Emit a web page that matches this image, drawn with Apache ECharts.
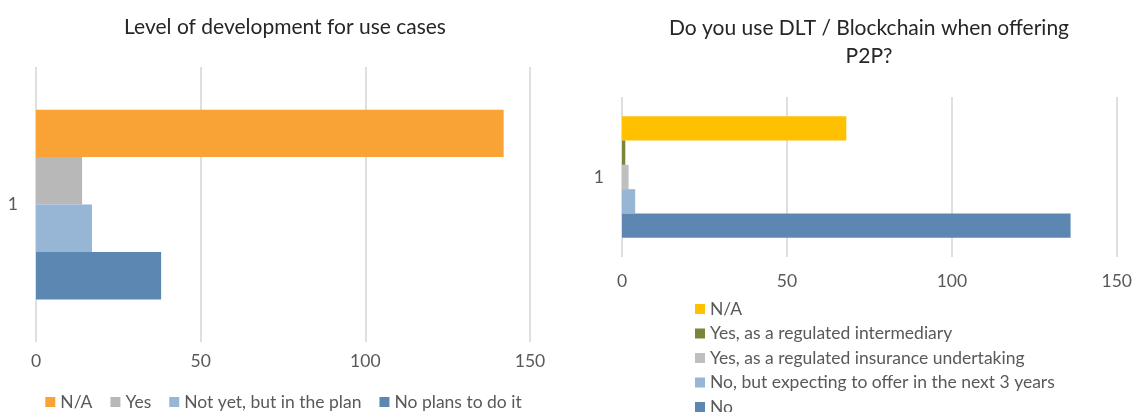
<!DOCTYPE html>
<html>
<head>
<meta charset="utf-8">
<script src="https://cdn.jsdelivr.net/npm/echarts@6/dist/echarts.min.js"></script>
<style>
  html, body { margin: 0; padding: 0; background: #fff; overflow: hidden; height: 412px; }
  .panel { position: absolute; top: 0; }
  #dev { left: 0; width: 567px; height: 412px; }
  #p2p { left: 567px; width: 568px; height: 440px; }
</style>
</head>
<body>
<div id="dev" class="panel"></div>
<div id="p2p" class="panel"></div>
<script>
// Shared category (single group per chart)
const categories = ['1'];

// Left chart: level of development for use cases
const devTitle = 'Level of development for use cases';
const devNames = ['N/A', 'Yes', 'Not yet, but in the plan', 'No plans to do it'];
const devValues = [142, 14, 17, 38];
const devColors = ['#F9A336', '#B8B8B8', '#97B6D6', '#5B87B2'];

// Right chart: DLT / Blockchain use for P2P
const p2pTitle = 'Do you use DLT / Blockchain when offering\nP2P?';
const p2pNames = [
  'N/A',
  'Yes, as a regulated intermediary',
  'Yes, as a regulated insurance undertaking',
  'No, but expecting to offer in the next 3 years',
  'No'
];
const p2pValues = [68, 1, 2, 4, 136];
const p2pColors = ['#FFC000', '#76863C', '#BFBFBF', '#97B6D6', '#5B87B2'];

// Value axis ticks
const axisMin = 0, axisMax = 150, axisStep = 50;

const FONT = 'Lato';
const textColor = '#595959';
const titleColor = '#262626';

function valueAxis(labelMargin) {
  return {
    type: 'value',
    min: axisMin, max: axisMax, interval: axisStep,
    axisLine: { show: false }, axisTick: { show: false },
    axisLabel: { color: textColor, fontFamily: FONT, fontSize: 17.5, margin: labelMargin },
    splitLine: { show: true, lineStyle: { color: '#D4D4D4', width: 1.5 } }
  };
}
function catAxis() {
  return {
    type: 'category', data: categories, inverse: true,
    axisLine: { show: false }, axisTick: { show: false },
    axisLabel: { color: textColor, fontFamily: FONT, fontSize: 17.5, margin: 18 }
  };
}
function barSeries(names, values, colors, gap) {
  return names.map((name, i) => ({
    name: name, type: 'bar',
    data: [values[i]], barGap: '0%', barCategoryGap: gap,
    itemStyle: { color: colors[i] }
  }));
}
const legendText = { color: textColor, fontFamily: FONT, fontSize: 17.5, lineHeight: 16 };
const titleText = { color: titleColor, fontFamily: FONT, fontSize: 21, fontWeight: 'normal', lineHeight: 28 };

// Left panel
const devChart = echarts.init(document.getElementById('dev'), null, { renderer: 'canvas' });
devChart.setOption({
  backgroundColor: '#ffffff',
  animation: false,
  title: { text: devTitle, left: 280, top: 8, textAlign: 'center', textStyle: titleText },
  legend: { data: devNames, left: 'center', top: 388, orient: 'horizontal', icon: 'rect',
    itemWidth: 10, itemHeight: 10, itemGap: 18, textStyle: legendText },
  grid: { left: 36, right: 37, top: 67, height: 275 },
  xAxis: valueAxis(10),
  yAxis: catAxis(),
  series: barSeries(devNames, devValues, devColors, '31%')
});

// Right panel
const p2pChart = echarts.init(document.getElementById('p2p'), null, { renderer: 'canvas' });
p2pChart.setOption({
  backgroundColor: '#ffffff',
  animation: false,
  title: { text: p2pTitle, left: 297, top: 9, textAlign: 'center',
    textStyle: Object.assign({}, titleText, { align: 'center' }) },
  legend: { data: p2pNames, left: 123, top: 295, orient: 'vertical', icon: 'rect',
    itemWidth: 10, itemHeight: 10, itemGap: 6.5, textStyle: legendText },
  grid: { left: 55, right: 12, top: 97, height: 160 },
  xAxis: valueAxis(15),
  yAxis: catAxis(),
  series: barSeries(p2pNames, p2pValues, p2pColors, '24%')
});
</script>
</body>
</html>
